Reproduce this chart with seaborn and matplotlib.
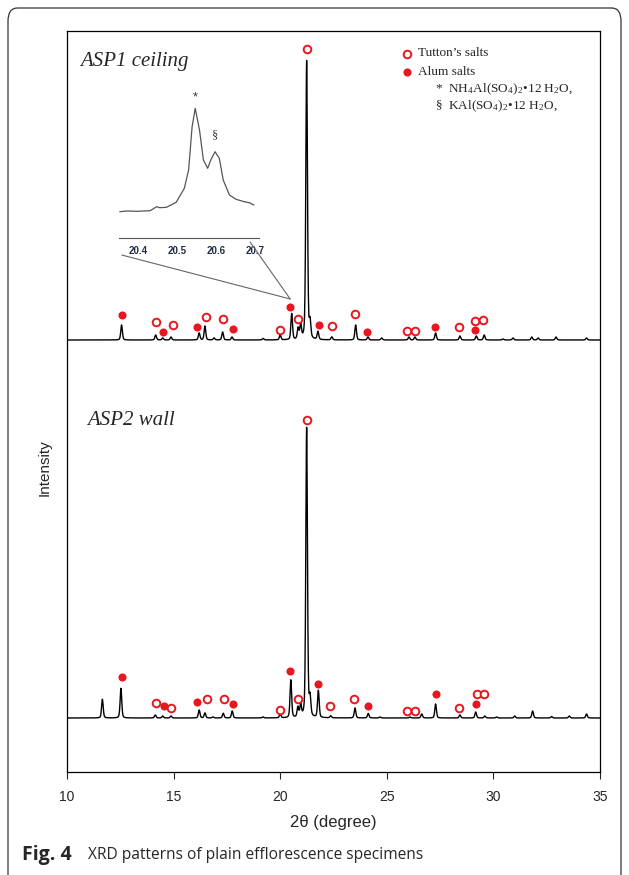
import numpy as np
import pandas as pd
import seaborn as sns
import matplotlib.pyplot as plt
from matplotlib.patches import FancyBboxPatch, ConnectionPatch

# peak lists: 2-theta (deg) and height above the baseline (a.u.)
asp1_pos = [12.56, 14.16, 14.49, 14.88, 16.20, 16.47, 16.90, 17.30, 17.74, 19.20,
            20.00, 20.54, 20.84, 20.96, 21.24, 21.40, 21.77, 22.42, 23.54, 24.12,
            24.76, 26.04, 26.32, 27.29, 28.43, 29.20, 29.57, 30.45, 30.92, 31.80,
            32.10, 32.94, 34.37]
asp1_height = [15, 5, 2, 3, 7, 14, 2, 8, 3, 1.5,
               5, 26, 11, 14, 279, 16, 8, 3, 15, 3,
               2, 3, 3, 7, 4, 4, 5, 1, 2, 3,
               2, 3, 2]

asp2_pos = [11.66, 12.53, 14.14, 14.49, 14.88, 16.20, 16.47, 16.85, 17.33, 17.75,
            19.19, 20.00, 20.50, 20.83, 20.96, 21.24, 21.40, 21.79, 22.37, 23.51,
            24.13, 24.68, 26.09, 26.64, 27.29, 28.43, 29.17, 29.60, 30.15, 31.00,
            31.84, 32.73, 33.56, 34.37]
asp2_height = [18.7, 29.7, 3, 2, 2, 8, 5, 1, 4.7, 7,
               1, 3.7, 37.7, 10, 12, 290, 18, 27, 2, 10,
               4.5, 1, 1, 4, 14, 3, 6, 2, 1, 2,
               7, 1.5, 2, 4]

# phase markers: position and height above the pattern baseline
asp1_tutton_pos = [14.16, 14.96, 16.52, 17.33, 19.99, 20.82, 21.27, 22.44, 23.51,
                   25.93, 26.32, 28.39, 29.14, 29.50]
asp1_tutton_h = [18, 15, 23, 21.5, 10.5, 21.5, 291.5, 14, 26, 9.5, 9.5, 13, 19, 20]
asp1_alum_pos = [12.59, 14.49, 16.08, 17.79, 20.48, 21.82, 24.09, 27.26, 29.14]
asp1_alum_h = [25.5, 8.5, 13, 11, 33.5, 15.5, 8.5, 13, 10.5]

asp2_tutton_pos = [14.16, 14.88, 16.57, 17.36, 19.99, 20.82, 21.24, 22.34, 23.48,
                   25.93, 26.32, 28.39, 29.22, 29.57]
asp2_tutton_h = [15, 10, 19.5, 19.5, 8.5, 19.5, 298, 12, 19, 7.5, 7.5, 10.5, 24.5, 24.5]
asp2_alum_pos = [12.59, 14.53, 16.11, 17.80, 20.48, 21.76, 24.10, 27.29, 29.17]
asp2_alum_h = [41, 12, 16, 14, 47, 34.5, 12, 24, 14]

# zoomed ASP1 doublet (inset), read point by point
inset_x = [20.352, 20.370, 20.396, 20.430, 20.447, 20.455, 20.472, 20.497, 20.518,
           20.529, 20.538, 20.546, 20.557, 20.567, 20.578, 20.586, 20.597, 20.608,
           20.618, 20.634, 20.651, 20.672, 20.685, 20.697]
inset_y = [26.3, 27.0, 26.7, 27.3, 31.3, 30.3, 30.7, 35.7, 49.7,
           68.0, 111.3, 129.7, 108.0, 78.0, 69.7, 78.0, 86.3, 79.7,
           58.0, 43.0, 38.7, 36.3, 35.3, 33.0]
inset_ticks = [20.4, 20.5, 20.6, 20.7]

x_ticks = [10, 15, 20, 25, 30, 35]
offset_asp1 = 378   # vertical stacking of the ASP1 trace
fwhm = 0.09
red = '#e8171f'


def pattern(two_theta, pos, height):
    # pseudo-Voigt peaks on a flat baseline
    y = np.zeros_like(two_theta)
    hw = fwhm / 2
    for p, h in zip(pos, height):
        d = ((two_theta - p) / hw) ** 2
        y += h * (0.35 / (1 + d) + 0.65 * np.exp(-np.log(2) * d))
    return y


sns.set_style('white')
plt.rcParams['font.family'] = ['Liberation Sans', 'DejaVu Sans']
plt.rcParams['mathtext.fontset'] = 'stix'

W, H = 629, 875
fig = plt.figure(figsize=(W / 100, H / 100), dpi=100)


def rect(left, top, right, bottom):
    return [left / W, 1 - bottom / H, (right - left) / W, (bottom - top) / H]


ax = fig.add_axes(rect(67, 31, 600, 772))

tt = np.arange(10, 35.0001, 0.01)
df = pd.DataFrame({
    'two_theta': np.concatenate([tt, tt]),
    'intensity': np.concatenate([pattern(tt, asp1_pos, asp1_height) + offset_asp1,
                                 pattern(tt, asp2_pos, asp2_height)]),
    'sample': ['ASP1'] * len(tt) + ['ASP2'] * len(tt),
})
sns.lineplot(data=df, x='two_theta', y='intensity', units='sample', estimator=None,
             color='black', lw=1.0, ax=ax)

open_kw = dict(marker='o', s=30, facecolor='white', edgecolor=red, linewidth=1.4,
               zorder=5, ax=ax, legend=False)
fill_kw = dict(marker='o', s=34, color=red, edgecolor=red, linewidth=0,
               zorder=5, ax=ax, legend=False)
sns.scatterplot(x=asp1_tutton_pos, y=np.array(asp1_tutton_h) + offset_asp1, **open_kw)
sns.scatterplot(x=asp1_alum_pos, y=np.array(asp1_alum_h) + offset_asp1, **fill_kw)
sns.scatterplot(x=asp2_tutton_pos, y=asp2_tutton_h, **open_kw)
sns.scatterplot(x=asp2_alum_pos, y=asp2_alum_h, **fill_kw)

ax.set_xlim(10, 35)
ax.set_ylim(-54, 687)
ax.set_xticks(x_ticks)
ax.set_xticklabels([str(t) for t in x_ticks], fontsize=10)
ax.set_yticks([])
ax.tick_params(axis='x', direction='out', length=5, width=0.8, bottom=True, pad=8)
for s in ax.spines.values():
    s.set_color('black')
    s.set_linewidth(0.9)
ax.set_xlabel('2θ (degree)', fontsize=12, labelpad=8)
ax.set_ylabel('')
fig.text(45 / W, 1 - 468 / H, 'Intensity', rotation=90, fontsize=11,
         ha='center', va='center')

ax.text(0.025, 0.959, 'ASP1 ceiling', transform=ax.transAxes, fontsize=15,
        family='Liberation Serif', style='italic', va='center')
ax.text(0.038, 0.474, 'ASP2 wall', transform=ax.transAxes, fontsize=15,
        family='Liberation Serif', style='italic', va='center')

# legend
serif = dict(family='Liberation Serif', fontsize=9.5, va='center')
ax.scatter([0.637], [0.969], transform=ax.transAxes, marker='o', s=30,
           facecolor='white', edgecolor=red, linewidth=1.4, clip_on=False)
ax.scatter([0.637], [0.944], transform=ax.transAxes, marker='o', s=34,
           color=red, linewidth=0, clip_on=False)
ax.text(0.658, 0.970, 'Tutton\u2019s salts', transform=ax.transAxes, **serif)
ax.text(0.658, 0.945, 'Alum salts', transform=ax.transAxes, **serif)
ax.text(0.690, 0.921, '*  NH$_\\mathregular{4}$Al(SO$_\\mathregular{4}$)$_\\mathregular{2}$\u202212 H$_\\mathregular{2}$O,',
        transform=ax.transAxes, **serif)
ax.text(0.690, 0.899, '\u00a7  KAl(SO$_\\mathregular{4}$)$_\\mathregular{2}$\u202212 H$_\\mathregular{2}$O,',
        transform=ax.transAxes, **serif)

# inset with the doublet
axi = fig.add_axes(rect(119, 100, 259, 238))
sns.lineplot(x=inset_x, y=inset_y, color='#555555', lw=0.9, ax=axi)
axi.set_xlim(20.35, 20.71)
axi.set_ylim(0, 138)
axi.patch.set_alpha(0)
for k in ['left', 'right', 'top']:
    axi.spines[k].set_visible(False)
axi.spines['bottom'].set_color('#555555')
axi.spines['bottom'].set_linewidth(0.8)
axi.set_yticks([])
axi.set_xticks(inset_ticks)
axi.set_xticklabels([f'{t:.1f}' for t in inset_ticks], fontsize=7,
                    fontweight='bold', color='#1f2a44')
axi.tick_params(axis='x', direction='out', length=3, width=0.7, color='#555555', pad=3)
axi.text(20.546, 141, '*', ha='center', va='center', fontsize=9, color='#333333',
         clip_on=False)
axi.text(20.597, 103, '\u00a7', ha='center', va='center', fontsize=9,
         family='Liberation Serif', color='#333333', clip_on=False)

for xa, ya in [(20.357, -17), (20.687, -4)]:
    con = ConnectionPatch(xyA=(xa, ya), coordsA=axi.transData,
                          xyB=(20.47, 419), coordsB=ax.transData,
                          color='#666666', lw=0.8)
    fig.add_artist(con)

# caption and page frame
fig.text(22 / W, 1 - 855 / H, 'Fig. 4', fontsize=14, fontweight='bold',
         family='Open Sans', va='center')
fig.text(88 / W, 1 - 855 / H, 'XRD patterns of plain efflorescence specimens',
         fontsize=11.2, family='Open Sans', va='center')
frame = FancyBboxPatch((8 / W, -0.02), 613 / W, 1 - 8 / H + 0.02,
                       boxstyle='round,pad=0,rounding_size=0.015',
                       transform=fig.transFigure, fill=False, lw=0.9,
                       edgecolor='#333333')
fig.add_artist(frame)

fig.savefig('out.png', dpi=100)
